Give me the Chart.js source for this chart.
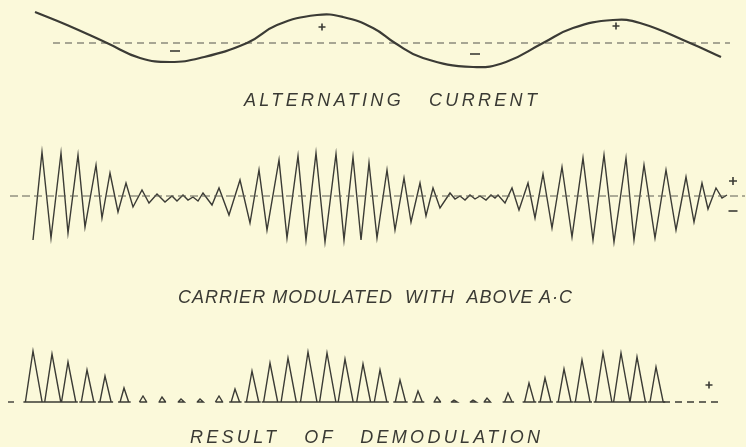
<!DOCTYPE html>
<html>
<head>
<meta charset="utf-8">
<script src="https://cdn.jsdelivr.net/npm/chart.js@4.4.1/dist/chart.umd.min.js"></script>
<style>
  html, body { margin: 0; padding: 0; background: #fbf9da; }
  #wrap { position: relative; width: 746px; height: 447px; overflow: hidden; background: #fbf9da; }
  canvas { position: absolute; left: 0; top: 0; }
  .lbl { position: absolute; font-family: "Liberation Sans", "DejaVu Sans", sans-serif; font-style: italic;
         font-size: 18px; color: #3a3a34; white-space: pre; line-height: 18px; }
</style>
</head>
<body>
<div id="wrap">
  <canvas id="c" width="746" height="447"></canvas>
  <span class="lbl" data-w="293" style="left:244px; top:91px;">ALTERNATING   CURRENT</span>
  <span class="lbl" data-w="394" style="left:178px; top:288px;">CARRIER MODULATED  WITH  ABOVE A·C</span>
  <span class="lbl" data-w="350" style="left:190px; top:428px;">RESULT   OF   DEMODULATION</span>
</div>
<script>
// ---- Alternating current (time, amplitude above the dashed zero line) ----
const acX = [35, 67, 107, 140, 170, 200, 247, 277, 317, 343, 373, 395, 423, 473, 506, 543, 573, 613, 640, 690, 721];
const acY = [31, 18, 0, -15, -19, -15, 0, 18, 28, 26, 15, 0, -15, -24, -19, 0, 15, 23, 20, 0, -14];
const acZeroX = [53, 730];

// ---- Modulated carrier (successive crests and troughs) ----
const carrierX = [33,42,51,61,68,78,85,96,102,110,118,126,133,142,149,157,165,172,177,183,188,193,198,203,212,219,229,240,250,259,267,279,287,298,306,316,325,336,344,353,361,369,377,387,395,404,411,420,426,433,440,450,455,460,465,470,475,480,486,491,495,498,505,512,519,528,535,543,552,562,572,583,593,604,614,626,634,644,655,666,676,686,694,702,708,716,722,727];
const carrierY = [-44,44,-42,43,-37,41,-31,31,-22,23,-16,13,-11,6,-7,2,-6,0,-5,1,-4,-1,-5,3,-9,8,-19,16,-27,26,-34,36,-42,40,-44,43,-46,42,-44,39,-44,33,-42,26,-34,18,-26,13,-20,8,-12,3,-3,0,-4,1,-3,0,-4,1,-2,1,-7,8,-14,13,-22,22,-32,29,-41,38,-44,41,-46,38,-44,31,-42,26,-34,19,-26,13,-13,8,-2,1];
const carrierZeroX = [10, 745];

// ---- Result of demodulation (peak time, pulse height) ----
const pulseX = [33,52,68,87,105,124,143,162,181,200,219,235,252,270,288,308,327,345,363,380,400,418,437,454,473,487,508,529,545,564,582,603,621,637,656];
const pulseH = [51,48,40,32,26,14,6,5,3,3,6,13,31,39,44,50,49,43,38,32,22,11,5,2,2,4,9,19,24,33,42,49,49,45,35];
const demodLeadX = [8, 14];
const demodTailX = [663, 722];

// ---- Sign marks ----
const acPlusX = [322, 616],  acPlusY = [16, 17];
const acMinusX = [175, 475], acMinusY = [-8, -11];
const carPlusX = [733], carPlusY = [15];
const carMinusX = [733], carMinusY = [-15];
const demPlusX = [709], demPlusY = [17];

const INK = '#3b3b35';
const zip = (xs, ys) => xs.map((x, i) => ({ x, y: ys[i] }));
const flat = xs => xs.map(x => ({ x, y: 0 }));

const pulsePts = [];
pulseX.forEach((px, i) => {
  const h = pulseH[i];
  const wl = 2.5 + h * 0.1, wr = 3 + h * 0.12;
  const fl = h > 8 ? 2 : 0.5;
  pulsePts.push({ x: px - wl - fl, y: 0 }, { x: px - wl, y: 0 }, { x: px, y: h },
                { x: px + wr, y: 0 }, { x: px + wr + fl, y: 0 }, { x: px - wl - fl, y: 0 },
                { x: px + wr + fl + 0.5, y: null });
});

const marks = (xs, ys, axis, style, r) => ({
  type: 'scatter', data: zip(xs, ys), yAxisID: axis, showLine: false,
  pointStyle: style, pointRadius: r, pointBorderColor: INK, pointBorderWidth: 1.6,
  pointBackgroundColor: INK, clip: false
});

new Chart(document.getElementById('c'), {
  type: 'line',
  data: {
    datasets: [
      { data: zip(acX, acY), yAxisID: 'yAC', borderColor: INK, borderWidth: 2.2, tension: 0.45, pointRadius: 0, clip: false },
      { data: flat(acZeroX), yAxisID: 'yAC', borderColor: '#55554d', borderWidth: 1.1, borderDash: [7, 5], pointRadius: 0, clip: false },
      { data: flat(carrierZeroX), yAxisID: 'yCar', borderColor: '#5e5e55', borderWidth: 1, borderDash: [8, 4], pointRadius: 0, clip: false },
      { data: zip(carrierX, carrierY), yAxisID: 'yCar', borderColor: INK, borderWidth: 1.4, tension: 0, pointRadius: 0, clip: false },
      { data: pulsePts, yAxisID: 'yDem', borderColor: INK, borderWidth: 1.4, tension: 0, spanGaps: false, pointRadius: 0, clip: false },
      { data: flat(demodLeadX), yAxisID: 'yDem', borderColor: INK, borderWidth: 1.4, pointRadius: 0, clip: false },
      { data: flat(demodTailX), yAxisID: 'yDem', borderColor: INK, borderWidth: 1.4, borderDash: [7, 5], pointRadius: 0, clip: false },
      marks(acPlusX, acPlusY, 'yAC', 'cross', 3.5),
      marks(acMinusX, acMinusY, 'yAC', 'line', 5),
      marks(carPlusX, carPlusY, 'yCar', 'cross', 4),
      marks(carMinusX, carMinusY, 'yCar', 'line', 4.5),
      marks(demPlusX, demPlusY, 'yDem', 'cross', 3.5)
    ]
  },
  options: {
    responsive: false,
    animation: false,
    devicePixelRatio: 1,
    layout: { autoPadding: false, padding: 0 },
    plugins: { legend: { display: false }, tooltip: { enabled: false }, title: { display: false } },
    scales: {
      x: { type: 'linear', min: 0, max: 746, display: false },
      yAC: { type: 'linear', min: -404, max: 43, display: false },
      yCar: { type: 'linear', min: -251, max: 196, display: false },
      yDem: { type: 'linear', min: -45, max: 402, display: false }
    }
  }
});

// stretch each caption to the width it spans in the drawing
document.querySelectorAll('.lbl').forEach(el => {
  const target = +el.dataset.w;
  const n = el.textContent.length;
  const natural = el.getBoundingClientRect().width;
  el.style.letterSpacing = ((target - natural) / (n - 1)).toFixed(2) + 'px';
});
</script>
</body>
</html>
